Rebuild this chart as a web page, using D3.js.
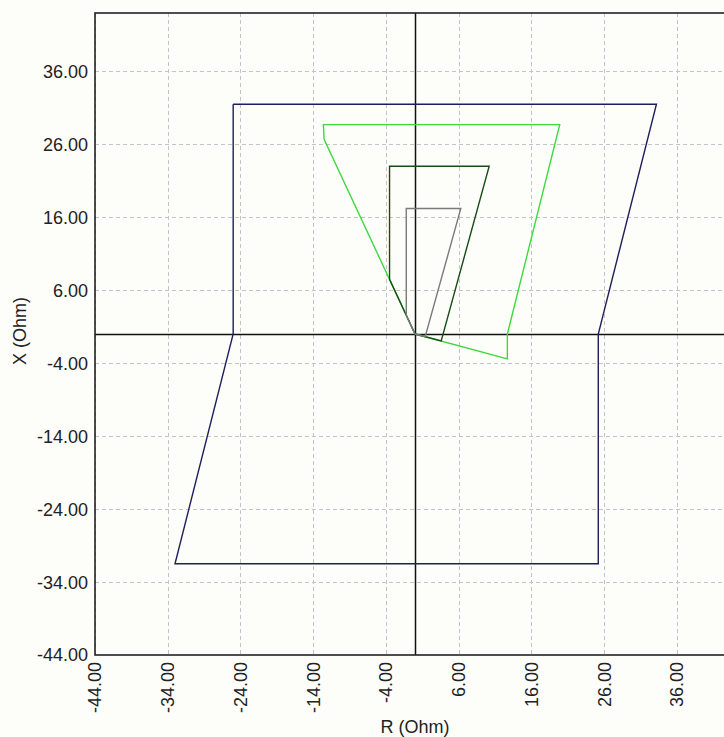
<!DOCTYPE html>
<html lang="en">
<head>
<meta charset="UTF-8">
<script src="https://d3js.org/d3.v7.min.js"></script>
<style>
  body { margin: 0; background: #fdfdfa; }
  svg { display: block; font-family: "Liberation Sans", Arial, sans-serif; }
  .grid line { stroke: #c4c4c4; stroke-width: 1; stroke-dasharray: 4,3; }
  .tick-label { font-size: 18px; fill: #222; }
  .axis-title { font-size: 18px; fill: #222; }
</style>
</head>
<body>
<script>
// tick values (Ohm)
const xTicks = [-44, -34, -24, -14, -4, 6, 16, 26, 36];
const yTicks = [-44, -34, -24, -14, -4, 6, 16, 26, 36];

// zone characteristics, [R, X] in Ohm
const zoneOuter = [[-25, 31.5], [33.2, 31.5], [25.2, 0], [25.2, -31.5], [-33, -31.5], [-25, 0], [-25, 31.5]];
const zoneGreen = [[0, 0], [-12.5, 26.7], [-12.6, 28.7], [19.9, 28.7], [12.7, 0], [12.7, -3.4], [0, 0]];
const zoneDark  = [[0, 0], [-3.5, 7.5], [-3.5, 23], [10.2, 23], [3.6, -0.96], [0, 0]];
const zoneGray  = [[0, 0], [-1.2, 2.6], [-1.2, 17.2], [6.3, 17.2], [1.4, -0.37], [0, 0]];

const zones = [
  { pts: zoneOuter, color: "#1c1f5c" },
  { pts: zoneGreen, color: "#3fd93f" },
  { pts: zoneDark,  color: "#174d17" },
  { pts: zoneGray,  color: "#7a7a7a" }
];

const W = 724, H = 737;
const margin = { left: 95, top: 13 };
const plotW = 640, plotH = 642;

const x = d3.scaleLinear().domain([-44, 44]).range([margin.left, margin.left + plotW]);
const y = d3.scaleLinear().domain([-44, 44]).range([margin.top + plotH, margin.top]);

const svg = d3.select("body").append("svg")
    .attr("width", W).attr("height", H);

svg.append("rect").attr("width", W).attr("height", H).attr("fill", "#fdfdfa");

svg.append("clipPath").attr("id", "plot-clip")
  .append("rect")
    .attr("x", margin.left).attr("y", margin.top)
    .attr("width", plotW).attr("height", plotH);

const plot = svg.append("g").attr("clip-path", "url(#plot-clip)");

// dashed grid
const grid = plot.append("g").attr("class", "grid");
grid.selectAll("line.v").data(xTicks).join("line")
    .attr("class", "v")
    .attr("x1", d => Math.round(x(d)) + 0.5).attr("x2", d => Math.round(x(d)) + 0.5)
    .attr("y1", y(44)).attr("y2", y(-44));
grid.selectAll("line.h").data(yTicks).join("line")
    .attr("class", "h")
    .attr("y1", d => Math.round(y(d)) + 0.5).attr("y2", d => Math.round(y(d)) + 0.5)
    .attr("x1", x(-44)).attr("x2", x(44));

// zero axes
plot.append("line")
    .attr("x1", Math.round(x(0)) + 0.5).attr("x2", Math.round(x(0)) + 0.5)
    .attr("y1", y(44)).attr("y2", y(-44))
    .attr("stroke", "#111").attr("stroke-width", 1.5);
plot.append("line")
    .attr("y1", Math.round(y(0)) + 0.5).attr("y2", Math.round(y(0)) + 0.5)
    .attr("x1", x(-44)).attr("x2", x(44))
    .attr("stroke", "#111").attr("stroke-width", 1.5);

// zones
const line = d3.line().x(d => x(d[0])).y(d => y(d[1]));
plot.selectAll("path.zone").data(zones).join("path")
    .attr("class", "zone")
    .attr("d", d => line(d.pts))
    .attr("fill", "none")
    .attr("stroke", d => d.color)
    .attr("stroke-width", 1.4);

// frame
svg.append("rect")
    .attr("x", margin.left).attr("y", margin.top)
    .attr("width", plotW).attr("height", plotH)
    .attr("fill", "none").attr("stroke", "#222").attr("stroke-width", 1.6);

// y tick labels
svg.selectAll("text.ylab").data(yTicks).join("text")
    .attr("class", "tick-label ylab")
    .attr("x", margin.left - 7)
    .attr("y", d => y(d))
    .attr("dy", "0.36em")
    .attr("text-anchor", "end")
    .text(d => d.toFixed(2));

// x tick labels (rotated)
svg.selectAll("text.xlab").data(xTicks).join("text")
    .attr("class", "tick-label xlab")
    .attr("transform", d => `translate(${x(d)},${margin.top + plotH + 7}) rotate(-90)`)
    .attr("dy", "0.36em")
    .attr("text-anchor", "end")
    .text(d => d.toFixed(2));

// axis titles
svg.append("text").attr("class", "axis-title")
    .attr("x", x(0)).attr("y", 733)
    .attr("text-anchor", "middle")
    .text("R (Ohm)");
svg.append("text").attr("class", "axis-title")
    .attr("transform", `translate(26,${y(0) - 3}) rotate(-90)`)
    .attr("text-anchor", "middle")
    .text("X (Ohm)");
</script>
</body>
</html>
